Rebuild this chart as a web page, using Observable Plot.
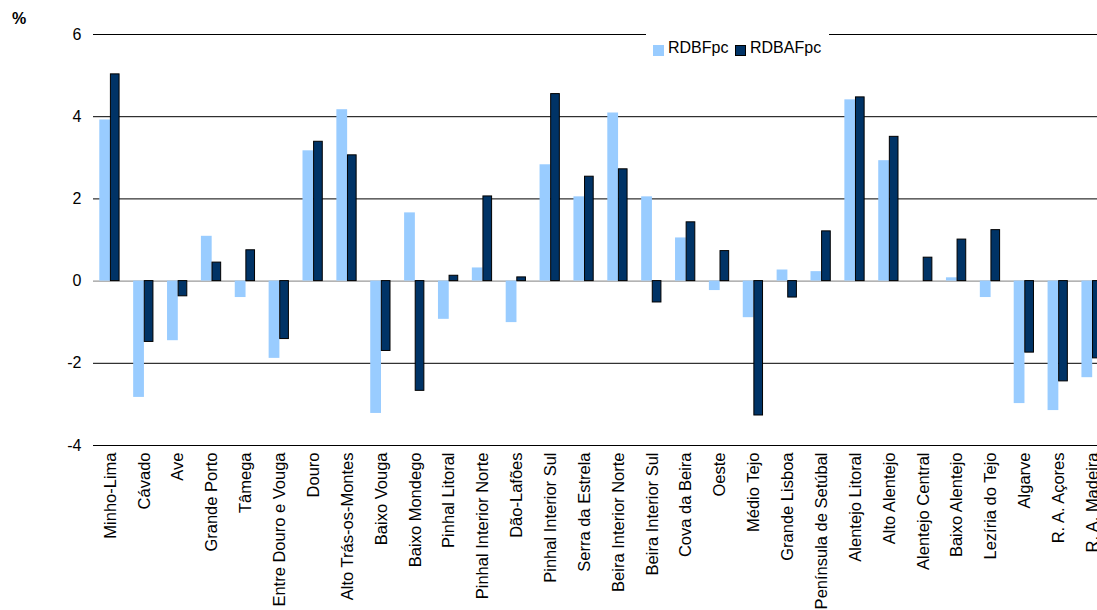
<!DOCTYPE html>
<html>
<head>
<meta charset="utf-8">
<script src="https://cdn.jsdelivr.net/npm/d3@7"></script>
<script src="https://cdn.jsdelivr.net/npm/@observablehq/plot@0.6"></script>
<style>
  body { margin: 0; background: #fff; font-family: "Liberation Sans", Arial, sans-serif; }
  #wrap { position: relative; width: 1097px; height: 610px; overflow: hidden; background: #fff; }
  #chart { position: absolute; left: 0; top: 0; }
  .abs { position: absolute; font-size: 16px; line-height: 16px; color: #000; white-space: nowrap; }
  .unit { left: 12px; top: 11px; font-weight: bold; }
  .legend-box { position: absolute; left: 646px; top: 30px; width: 183px; height: 30px; background: #fff; }
  .sw { position: absolute; width: 11px; height: 11px; box-sizing: border-box; }
  .sw.light { left: 653px; top: 45px; background: #99ccff; }
  .sw.dark { left: 735px; top: 45px; background: #003366; border: 1px solid #000; }
</style>
</head>
<body>
<div id="wrap">
  <div id="chart"></div>
  <div class="abs unit">%</div>
  <div class="legend-box"></div>
  <div class="sw light"></div>
  <div class="abs" style="left:668px;top:40px;">RDBFpc</div>
  <div class="sw dark"></div>
  <div class="abs" style="left:750px;top:40px;">RDBAFpc</div>
</div>
<script>
// NUTS III regions, in display order
const regions = [
  "Minho-Lima", "Cávado", "Ave", "Grande Porto", "Tâmega", "Entre Douro e Vouga",
  "Douro", "Alto Trás-os-Montes", "Baixo Vouga", "Baixo Mondego", "Pinhal Litoral",
  "Pinhal Interior Norte", "Dão-Lafões", "Pinhal Interior Sul", "Serra da Estrela",
  "Beira Interior Norte", "Beira Interior Sul", "Cova da Beira", "Oeste", "Médio Tejo",
  "Grande Lisboa", "Península de Setúbal", "Alentejo Litoral", "Alto Alentejo",
  "Alentejo Central", "Baixo Alentejo", "Lezíria do Tejo", "Algarve",
  "R. A. Açores", "R. A. Madeira"
];

// RDBFpc (%)
const rdbf = [
  3.92, -2.83, -1.45, 1.09, -0.40, -1.88,
  3.17, 4.17, -3.22, 1.66, -0.93,
  0.32, -1.01, 2.83, 2.05,
  4.09, 2.05, 1.05, -0.23, -0.89,
  0.27, 0.23, 4.41, 2.93,
  0.00, 0.08, -0.40, -2.98,
  -3.15, -2.35
];

// RDBAFpc (%)
const rdbaf = [
  5.03, -1.48, -0.37, 0.45, 0.75, -1.41,
  3.39, 3.06, -1.70, -2.67, 0.13,
  2.06, 0.09, 4.55, 2.54,
  2.72, -0.52, 1.43, 0.73, -3.27,
  -0.40, 1.21, 4.47, 3.51,
  0.57, 1.01, 1.24, -1.74,
  -2.44, -1.88
];

const yTicks = [-4, -2, 0, 2, 4, 6];

const data = regions.map((region, i) => ({ region, rdbf: rdbf[i], rdbaf: rdbaf[i] }));

const chart = Plot.plot({
  width: 1109,
  height: 610,
  marginLeft: 93,
  marginRight: 0,
  marginTop: 34,
  marginBottom: 165,
  style: {
    fontFamily: "'Liberation Sans', Arial, sans-serif",
    fontSize: "16px",
    color: "#000",
    background: "transparent",
    maxWidth: "none",
    overflow: "visible"
  },
  x: { type: "band", domain: regions, padding: 0, round: false, label: null },
  y: { domain: [-4, 6], label: null },
  marks: [
    Plot.ruleY(yTicks.filter(d => d !== 0), { stroke: "#000", strokeWidth: 1 }),
    Plot.ruleY([0], { stroke: "#808080", strokeWidth: 1 }),
    Plot.barY(data, { x: "region", y: "rdbf", fill: "#99ccff", insetLeft: 6.3, insetRight: 16.8 }),
    Plot.barY(data, { x: "region", y: "rdbaf", fill: "#003366", stroke: "#000", strokeWidth: 1, insetLeft: 17.4, insetRight: 7.8 }),
    Plot.axisY({ ticks: yTicks, tickSize: 0, tickPadding: 12, tickFormat: d => String(d), fontSize: 16, label: null }),
    Plot.axisX({ tickRotate: -90, tickSize: 0, tickPadding: 7, fontSize: 16.5, label: null })
  ]
});

document.getElementById("chart").appendChild(chart);
</script>
</body>
</html>
